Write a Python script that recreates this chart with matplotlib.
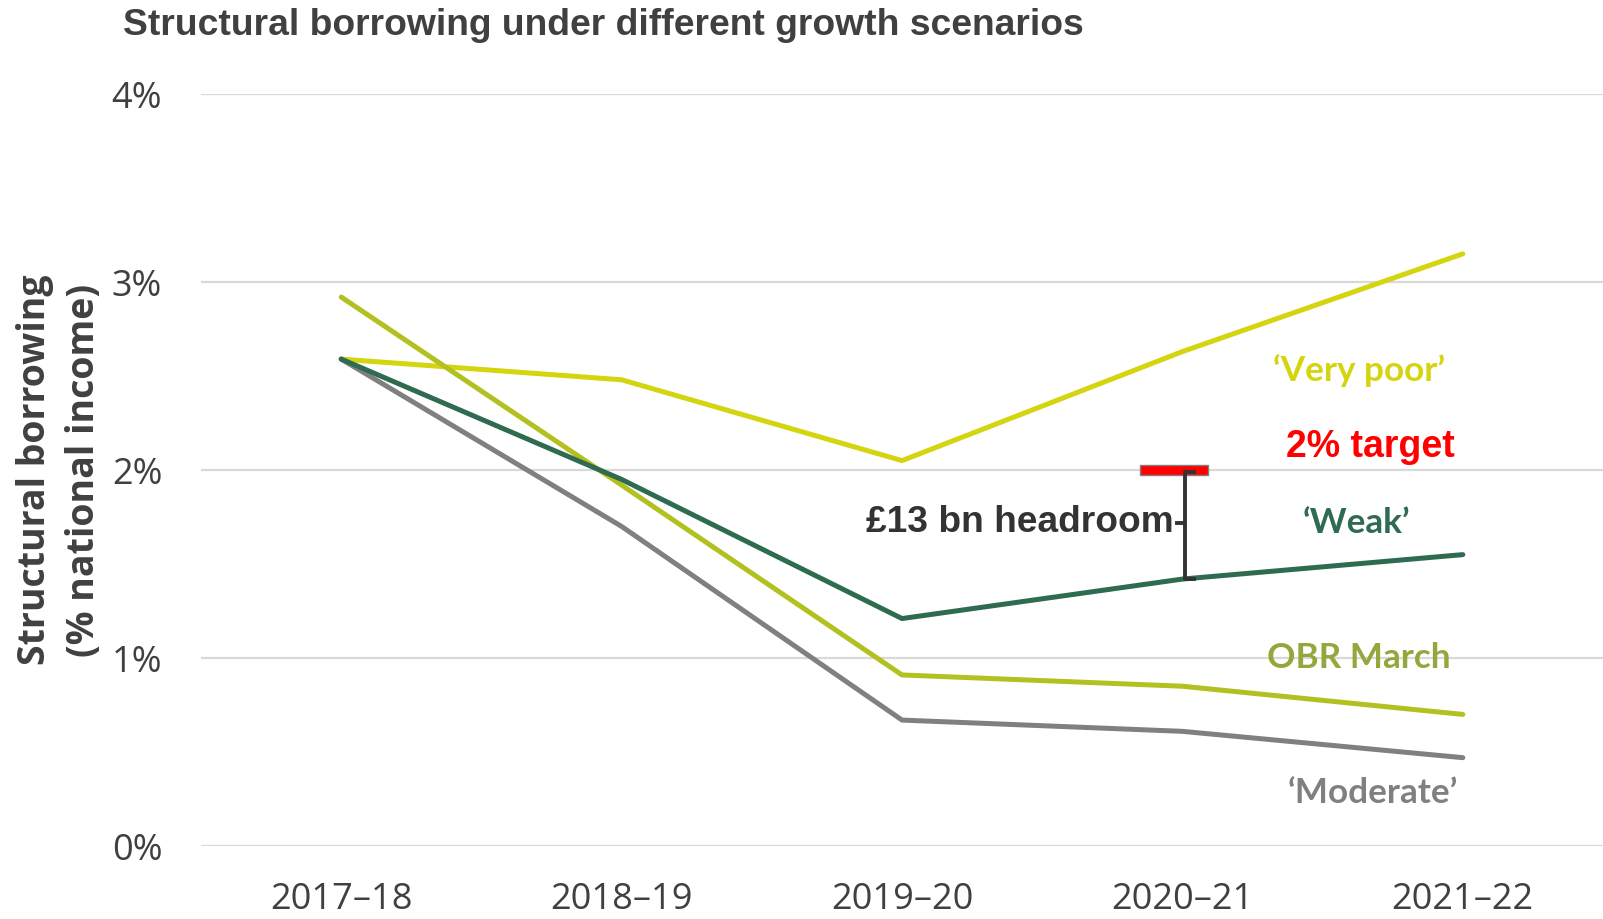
import matplotlib.pyplot as plt

years = ['2017–18', '2018–19', '2019–20', '2020–21', '2021–22']
very_poor = [2.59, 2.48, 2.05, 2.63, 3.15]
obr_march = [2.92, 1.92, 0.91, 0.85, 0.70]
weak = [2.59, 1.95, 1.21, 1.42, 1.55]
moderate = [2.59, 1.70, 0.67, 0.61, 0.47]
target = 2.0

c_poor = '#d4d40f'
c_obr = '#b2c11f'
c_obr_text = '#93a83c'
c_weak = '#2f6b50'
c_mod = '#808080'
c_text = '#404040'

fig = plt.figure(figsize=(16.03, 9.19), dpi=100)
ax = fig.add_axes([0.1254, 0.0794, 0.8746, 0.8183])

x = range(len(years))
lw = 3.6
ax.plot(x, very_poor, color=c_poor, lw=lw, solid_capstyle='round', zorder=3)
ax.plot(x, moderate, color=c_mod, lw=lw, solid_capstyle='round', zorder=3)
ax.plot(x, obr_march, color=c_obr, lw=lw, solid_capstyle='round', zorder=4)
ax.plot(x, weak, color=c_weak, lw=lw, solid_capstyle='round', zorder=5)

ax.set_xlim(-0.5, 4.5)
ax.set_ylim(0, 4)
ax.set_yticks([0, 1, 2, 3, 4])
ax.set_yticklabels(['0%', '1%', '2%', '3%', '4%'])
ax.set_xticks(list(x))
ax.set_xticklabels(years)
ax.grid(axis='y', color='#d9d9d9', lw=1.6, zorder=0)
ax.set_axisbelow(True)
for s in ax.spines.values():
    s.set_visible(False)
ax.tick_params(axis='both', length=0, labelsize=26, colors=c_text)
ax.tick_params(axis='y', pad=28)
ax.tick_params(axis='x', pad=26)
for lab in ax.get_xticklabels() + ax.get_yticklabels():
    lab.set_fontfamily('Open Sans')

ax.set_ylabel('Structural borrowing\n(% national income)', fontsize=27,
              fontweight='bold', family='Open Sans', color=c_text,
              linespacing=1.4, labelpad=6)

fig.text(0.0767, 0.972, 'Structural borrowing under different growth scenarios',
         fontsize=26.8, fontweight='bold', family='Liberation Sans',
         color=c_text, va='center', ha='left')

# headroom marker: red target bar and bracket down to the 'Weak' line
ax.bar(2.97, 0.055, width=0.24, bottom=target - 0.0275, color='#ff0000',
       edgecolor='#808080', lw=1, zorder=6)
bx = 3.01
ax.plot([bx + 0.03, bx, bx, bx + 0.03], [target - 0.01, target - 0.01, weak[3], weak[3]],
        color='#333333', lw=2.8, zorder=7, solid_joinstyle='round')
mid = (target + weak[3]) / 2 + 0.01
ax.plot([bx - 0.03, bx], [mid, mid], color='#333333', lw=2.8, zorder=7)
ax.text(bx - 0.04, mid, '£13 bn headroom', fontsize=26.7, fontweight='bold',
        family='Liberation Sans', color='#333333', ha='right', va='center')

lab_kw = dict(fontsize=25.3, fontweight='bold', family='Lato', ha='center', va='center')
ax.text(3.63, 2.53, '‘Very poor’', color=c_poor, **lab_kw)
ax.text(3.67, 2.12, '2% target', color='#ff0000', fontsize=27, fontweight='bold',
        family='Liberation Sans', ha='center', va='center')
ax.text(3.62, 1.72, '‘Weak’', color=c_weak, **lab_kw)
ax.text(3.63, 1.00, 'OBR March', color=c_obr_text, **lab_kw)
ax.text(3.68, 0.28, '‘Moderate’', color=c_mod, **lab_kw)

fig.savefig('out.png', dpi=100, facecolor='white')
